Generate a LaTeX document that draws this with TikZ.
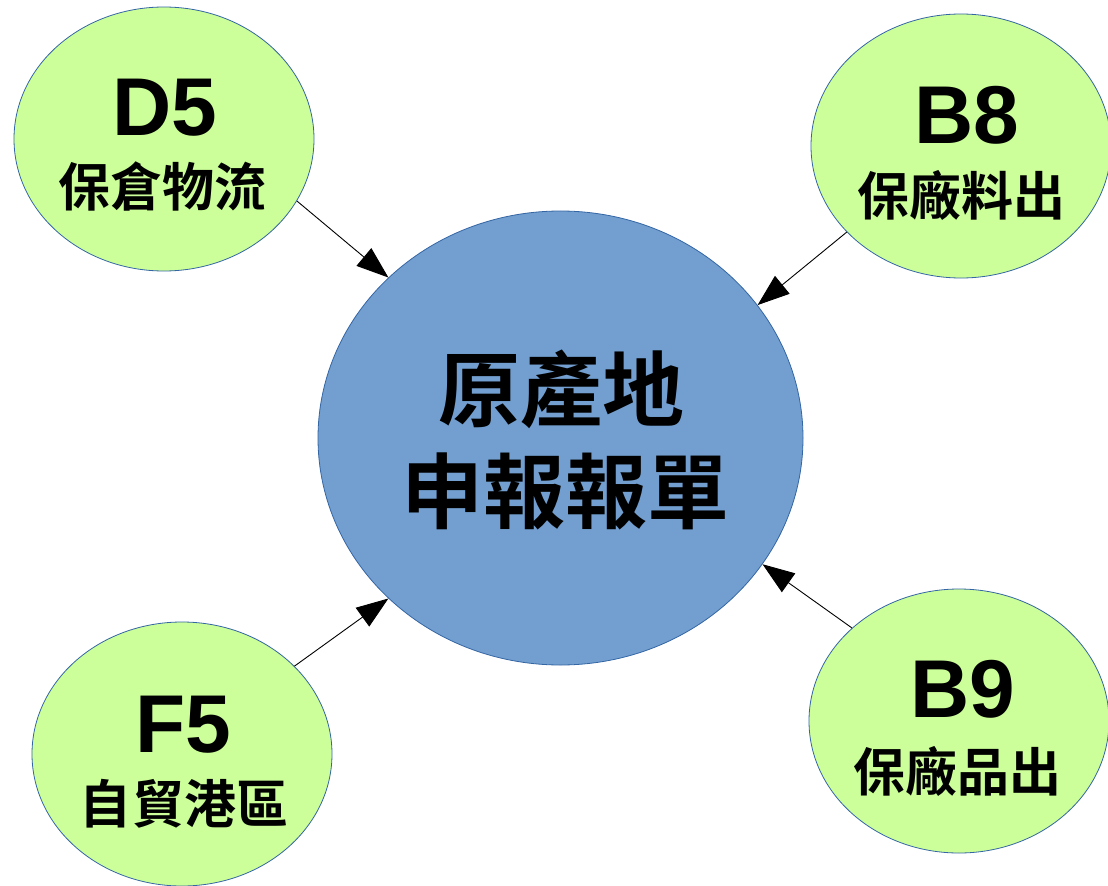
\documentclass[tikz,border=0pt]{standalone}
\usepackage{fontspec}
\setmainfont{Liberation Sans}
\newfontfamily\cjk{Noto Sans CJK TC}[BoldFont={* Bold}]
\usetikzlibrary{shapes.geometric,arrows.meta}
\definecolor{leaf}{HTML}{CCFF99}
\definecolor{rim}{HTML}{3465A4}
\definecolor{core}{HTML}{729FCF}
\tikzset{
  leafnode/.style={ellipse, draw=rim, line width=0.8bp, fill=leaf, inner sep=0pt,
    minimum width=300bp, minimum height=264bp},
  corenode/.style={ellipse, draw=rim, line width=0.8bp, fill=core, inner sep=0pt,
    minimum width=485bp, minimum height=454bp},
  codetext/.style={inner sep=0pt, anchor=center, font=\fontsize{82bp}{82bp}\selectfont\bfseries},
  nametext/.style={inner sep=0pt, anchor=center, font=\fontsize{52bp}{52bp}\selectfont\cjk\bfseries},
  titletext/.style={inner sep=0pt, anchor=center, font=\fontsize{82bp}{82bp}\selectfont\cjk\bfseries},
  linkarrow/.style={line width=0.9bp, -{Triangle[length=32bp,width=23bp]}}
}
\begin{document}
\begin{tikzpicture}[x=1bp,y=-1bp]
\useasboundingbox (0,0) rectangle (1108,886);
\node[leafnode] (d5) at (164,139) {};
\node[leafnode] (b8) at (961,146) {};
\node[leafnode] (f5) at (182,754) {};
\node[leafnode] (b9) at (959,721) {};
\node[corenode] (c) at (560.5,438) {};
\node[codetext] (d5c) at (165,107.5) {D5};
\node[nametext] (d5n) at (162.5,186.5) {保倉物流};
\node[codetext] (b8c) at (966.5,115.5) {B8};
\node[nametext] (b8n) at (961,195.5) {保廠料出};
\node[codetext] (f5c) at (183.5,724.5) {F5};
\node[nametext] (f5n) at (184,804) {自貿港區};
\node[codetext] (b9c) at (962.5,689.5) {B9};
\node[nametext] (b9n) at (957.5,771.5) {保廠品出};
\node[titletext] (t1) at (561,389.5) {原產地};
\node[titletext] (t2) at (565,491) {申報報單};
\draw[linkarrow] (d5.-25.5) -- (c.137.2);
\draw[linkarrow] (b8.-143.4) -- (c.34.7);
\draw[linkarrow] (f5.38.5) -- (c.-137.3);
\draw[linkarrow] (b9.139) -- (c.-32.2);
\end{tikzpicture}
\end{document}
